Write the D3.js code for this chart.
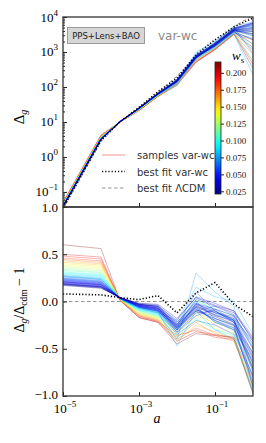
<!DOCTYPE html>
<html>
<head>
<meta charset="utf-8">
<script src="https://cdn.jsdelivr.net/npm/d3@7"></script>
<style>
body { margin: 0; background: #fff; }
</style>
</head>
<body>
<svg id="chart" width="266" height="443" font-family="Liberation Serif, serif"></svg>
<script>
// scale factor a at the knots where the curves are sampled
aKnots = [1e-5, 1e-4, 3.16e-4, 1e-3, 3.16e-3, 0.01, 0.0316, 0.1, 0.316, 1]
// best fit LCDM Delta_g at the knots
lcdmFit = [0.032, 2.75, 9.8, 25.7, 69, 204, 760, 1860, 5370, 11200]
// best fit var-wc, relative to LCDM
bestRatio = [0.08, 0.07, 0.04, 0.02, 0.063, -0.12, 0.09, 0.2, -0.03, -0.16]
// samples: w_s and relative difference to LCDM
sampleW = [0.026, 0.028, 0.03, 0.032, 0.033, 0.035, 0.036, 0.038, 0.04, 0.042,
  0.044, 0.045, 0.047, 0.05, 0.052, 0.055, 0.058, 0.06, 0.063, 0.066,
  0.07, 0.074, 0.077, 0.08, 0.085, 0.09, 0.095, 0.1, 0.108, 0.115,
  0.122, 0.13, 0.138, 0.146, 0.155, 0.163, 0.172, 0.18, 0.19, 0.2, 0.214]
sampleRatio = [
  [0.17, 0.14, 0.04, -0.03, -0.05, -0.26, -0.05, -0.12, -0.18, -0.55],
  [0.175, 0.145, 0.045, -0.02, -0.03, -0.18, 0.04, -0.04, -0.1, -0.42],
  [0.18, 0.15, 0.04, -0.02, -0.04, -0.22, -0.02, -0.08, -0.15, -0.45],
  [0.183, 0.153, 0.04, -0.03, -0.06, -0.29, -0.09, -0.16, -0.24, -0.66],
  [0.185, 0.155, 0.035, -0.04, -0.07, -0.3, -0.1, -0.18, -0.25, -0.7],
  [0.188, 0.158, 0.04, -0.03, -0.05, -0.24, -0.03, -0.1, -0.2, -0.58],
  [0.19, 0.16, 0.04, -0.03, -0.06, -0.25, 0.02, -0.05, -0.12, -0.4],
  [0.195, 0.165, 0.04, -0.04, -0.08, -0.28, -0.08, -0.2, -0.28, -0.8],
  [0.2, 0.17, 0.035, -0.05, -0.09, -0.32, -0.12, -0.1, -0.22, -0.6],
  [0.205, 0.175, 0.04, -0.03, -0.05, -0.2, 0.05, -0.02, -0.1, -0.38],
  [0.208, 0.178, 0.04, -0.04, -0.07, -0.27, -0.06, -0.14, -0.22, -0.74],
  [0.21, 0.18, 0.035, -0.05, -0.08, -0.27, -0.04, -0.15, -0.2, -0.65],
  [0.215, 0.185, 0.04, -0.04, -0.07, -0.24, -0.06, -0.22, -0.3, -0.85],
  [0.22, 0.19, 0.035, -0.05, -0.09, -0.3, -0.02, -0.12, -0.16, -0.5],
  [0.225, 0.195, 0.04, -0.06, -0.1, -0.33, -0.15, -0.08, -0.2, -0.72],
  [0.23, 0.2, 0.035, -0.05, -0.08, -0.22, 0.0, -0.18, -0.26, -0.9],
  [0.235, 0.205, 0.04, -0.06, -0.1, -0.28, -0.1, -0.05, -0.14, -0.48],
  [0.24, 0.21, 0.035, -0.05, -0.09, -0.26, -0.07, -0.2, -0.3, -0.62],
  [0.245, 0.215, 0.035, -0.06, -0.11, -0.35, -0.2, -0.25, -0.35, -0.78],
  [0.25, 0.22, 0.03, -0.07, -0.1, -0.25, 0.1, -0.1, -0.22, -0.55],
  [0.26, 0.23, 0.035, -0.06, -0.1, -0.3, -0.03, -0.14, -0.18, -0.42],
  [0.265, 0.235, 0.03, -0.07, -0.12, -0.4, 0.3, 0.1, -0.05, -0.92],
  [0.27, 0.24, 0.035, -0.06, -0.11, -0.47, -0.1, -0.3, -0.4, -0.98],
  [0.275, 0.245, 0.03, -0.07, -0.12, -0.2, 0.15, 0.05, 0.0, -0.35],
  [0.285, 0.255, 0.035, -0.08, -0.13, -0.32, -0.05, -0.22, -0.28, -0.88],
  [0.295, 0.265, 0.03, -0.08, -0.12, -0.28, 0.05, -0.12, -0.2, -0.7],
  [0.305, 0.275, 0.03, -0.09, -0.14, -0.38, -0.18, -0.3, -0.36, -0.95],
  [0.315, 0.285, 0.025, -0.09, -0.13, -0.24, 0.0, -0.08, -0.15, -0.5],
  [0.33, 0.3, 0.03, -0.1, -0.15, -0.3, -0.08, -0.18, -0.25, -0.75],
  [0.34, 0.31, 0.025, -0.1, -0.15, -0.35, -0.12, -0.2, -0.32, -0.8],
  [0.355, 0.325, 0.025, -0.11, -0.16, -0.28, 0.02, -0.1, -0.2, -0.6],
  [0.37, 0.34, 0.025, -0.12, -0.17, -0.4, -0.2, -0.28, -0.38, -0.9],
  [0.385, 0.355, 0.02, -0.12, -0.17, -0.3, -0.05, -0.15, -0.25, -0.65],
  [0.4, 0.37, 0.025, -0.13, -0.18, -0.36, -0.15, -0.22, -0.3, -0.85],
  [0.415, 0.385, 0.02, -0.13, -0.19, -0.33, -0.1, -0.25, -0.34, -0.7],
  [0.43, 0.4, 0.02, -0.14, -0.19, -0.42, -0.25, -0.32, -0.4, -0.95],
  [0.445, 0.415, 0.02, -0.15, -0.2, -0.38, -0.22, -0.34, -0.4, -0.88],
  [0.46, 0.43, 0.02, -0.15, -0.21, -0.4, -0.28, -0.36, -0.42, -0.92],
  [0.48, 0.45, 0.015, -0.16, -0.21, -0.36, -0.3, -0.38, -0.4, -0.8],
  [0.5, 0.47, 0.015, -0.17, -0.22, -0.42, -0.32, -0.35, -0.38, -0.96],
  [0.6, 0.56, 0.01, -0.17, -0.22, -0.45, -0.34, -0.36, -0.38, -0.97]
]
xTicks = [1e-5, 1e-3, 1e-1]
yTopTicks = [1e-1, 1, 10, 100, 1000, 10000]
yBotTicks = [-1, -0.5, 0, 0.5, 1]
cbTicks = [0.025, 0.05, 0.075, 0.1, 0.125, 0.15, 0.175, 0.2]

svg = d3.select("#chart")
left = 63; right = 253
topY0 = 17; topY1 = 207; botY1 = 396

x = d3.scaleLog().domain([1e-5, 1]).range([left, right])
yTop = d3.scaleLog().domain([Math.pow(10, -1.43), 1e4]).range([topY1, topY0])
yBot = d3.scaleLinear().domain([-1, 1]).range([botY1, topY1])

function jet(t){
    t = Math.max(0, Math.min(1, t))
    c = v => Math.round(255 * Math.max(0, Math.min(1, v)))
    return "rgb(" + c(1.5 - Math.abs(4*t - 3)) + "," + c(1.5 - Math.abs(4*t - 2)) + "," + c(1.5 - Math.abs(4*t - 1)) + ")"
}
cbDomain = [0.021, 0.216]
color = w => jet((w - cbDomain[0]) / (cbDomain[1] - cbDomain[0]))

defs = svg.append("defs")
defs.append("clipPath").attr("id", "clipTop").append("rect")
  .attr("x", left).attr("y", topY0).attr("width", right - left).attr("height", topY1 - topY0)
defs.append("clipPath").attr("id", "clipBot").append("rect")
  .attr("x", left).attr("y", topY1).attr("width", right - left).attr("height", botY1 - topY1)

lineTop = d3.line().x(d => x(d.a)).y(d => yTop(d.v))
lineBot = d3.line().x(d => x(d.a)).y(d => yBot(d.v))

// high w_s drawn first so the blue samples sit on top
sampleData = sampleW.map((w, i) => ({w: w, r: sampleRatio[i]})).reverse()

// ---- top panel
gTop = svg.append("g").attr("clip-path", "url(#clipTop)")
gTop.append("path").attr("fill", "none").attr("stroke", "#888").attr("stroke-width", 0.9)
  .attr("stroke-dasharray", "3.5,2.5")
  .attr("d", lineTop(aKnots.map((a, i) => ({a: a, v: lcdmFit[i]}))))
gTop.selectAll(".sTop").data(sampleData).join("path").attr("class", "sTop")
  .attr("fill", "none").attr("stroke", d => color(d.w)).attr("stroke-width", 0.7).attr("opacity", 0.45)
  .attr("d", d => lineTop(aKnots.map((a, i) => ({a: a, v: lcdmFit[i] * (1 + d.r[i])}))))
gTop.append("path").attr("fill", "none").attr("stroke", "#000").attr("stroke-width", 1.6)
  .attr("stroke-dasharray", "1.2,2")
  .attr("d", lineTop(aKnots.map((a, i) => ({a: a, v: lcdmFit[i] * (1 + bestRatio[i])}))))

// ---- bottom panel
gBot = svg.append("g").attr("clip-path", "url(#clipBot)")
gBot.append("line").attr("x1", left).attr("x2", right).attr("y1", yBot(0)).attr("y2", yBot(0))
  .attr("stroke", "#888").attr("stroke-width", 0.9).attr("stroke-dasharray", "3.5,2.5")
gBot.selectAll(".sBot").data(sampleData).join("path").attr("class", "sBot")
  .attr("fill", "none").attr("stroke", d => color(d.w)).attr("stroke-width", 0.7).attr("opacity", 0.45)
  .attr("d", d => lineBot(aKnots.map((a, i) => ({a: a, v: d.r[i]}))))
gBot.append("path").attr("fill", "none").attr("stroke", "#000").attr("stroke-width", 1.6)
  .attr("stroke-dasharray", "1.2,2")
  .attr("d", lineBot(aKnots.map((a, i) => ({a: a, v: bestRatio[i]}))))

// ---- axes (inward ticks)
function powLabel(sel, exp){
    sel.append("tspan").text("10")
    sel.append("tspan").attr("dy", -6).attr("font-size", 9).text(exp)
}
fmtExp = e => (e < 0 ? "\u2212" + (-e) : "" + e)

svg.append("g").attr("transform", "translate(" + left + ",0)")
  .call(d3.axisLeft(yTop).tickValues(yTopTicks).tickSize(-4).tickFormat(""))
minor = []
for (let k = -2; k < 4; k++) for (let m = 2; m < 10; m++) {
    v = m * Math.pow(10, k)
    if (v > yTop.domain()[0] && v < 1e4) minor.push(v)
}
svg.append("g").attr("transform", "translate(" + left + ",0)")
  .call(d3.axisLeft(yTop).tickValues(minor).tickSize(-2).tickFormat(""))
yTopTicks.forEach(v => {
    t = svg.append("text").attr("x", 58).attr("y", yTop(v) + 4.5).attr("text-anchor", "end").attr("font-size", 13)
    powLabel(t, fmtExp(Math.round(Math.log10(v))))
})

svg.append("g").attr("transform", "translate(" + left + ",0)")
  .call(d3.axisLeft(yBot).tickValues(yBotTicks).tickSize(-4).tickFormat(""))
yBotTicks.forEach(v => {
    svg.append("text").attr("x", 58).attr("y", yBot(v) + (v == -1 ? 3 : 4.5)).attr("text-anchor", "end")
      .attr("font-size", 13).text(d3.format(".1f")(v).replace("-", "\u2212"))
})

svg.append("g").attr("transform", "translate(0," + botY1 + ")")
  .call(d3.axisBottom(x).tickValues(xTicks).tickSize(-4).tickFormat(""))
svg.append("g").attr("transform", "translate(0," + topY1 + ")")
  .call(d3.axisBottom(x).tickValues(xTicks).tickSize(-4).tickFormat(""))
xTicks.forEach(v => {
    t = svg.append("text").attr("x", x(v) + 2).attr("y", 413).attr("text-anchor", "middle").attr("font-size", 13)
    powLabel(t, fmtExp(Math.round(Math.log10(v))))
})
svg.selectAll(".tick line").attr("stroke", "#222").attr("stroke-width", 1)
svg.selectAll(".domain").attr("stroke", "none")

// frames
svg.append("rect").attr("x", left).attr("y", topY0).attr("width", right - left).attr("height", topY1 - topY0)
  .attr("fill", "none").attr("stroke", "#333").attr("stroke-width", 1.3)
svg.append("rect").attr("x", left).attr("y", topY1).attr("width", right - left).attr("height", botY1 - topY1)
  .attr("fill", "none").attr("stroke", "#333").attr("stroke-width", 1.3)

// axis labels
lab1 = svg.append("text").attr("transform", "translate(24,117) rotate(-90)").attr("text-anchor", "middle").attr("font-size", 15)
lab1.append("tspan").text("\u0394")
lab1.append("tspan").attr("dy", 3).attr("font-size", 10).attr("font-style", "italic").text("g")
lab2 = svg.append("text").attr("transform", "translate(24,300) rotate(-90)").attr("text-anchor", "middle").attr("font-size", 14)
lab2.append("tspan").text("\u0394")
lab2.append("tspan").attr("dy", 3).attr("font-size", 9.5).attr("font-style", "italic").text("g")
lab2.append("tspan").attr("dy", -3).text("/\u0394")
lab2.append("tspan").attr("dy", 3).attr("font-size", 9.5).text("cdm")
lab2.append("tspan").attr("dy", -3).text(" \u2212 1")
svg.append("text").attr("x", 157).attr("y", 423).attr("text-anchor", "middle").attr("font-size", 14)
  .attr("font-style", "italic").text("a")

// data-set box and model name
svg.append("rect").attr("x", 67.5).attr("y", 27.5).attr("width", 77).attr("height", 16)
  .attr("fill", "#d6d6d6").attr("stroke", "#9a9a9a").attr("stroke-width", 1)
svg.append("text").attr("x", 106).attr("y", 39).attr("text-anchor", "middle").attr("font-size", 8.5)
  .attr("font-family", "DejaVu Sans").attr("fill", "#222").text("PPS+Lens+BAO")
svg.append("text").attr("x", 158).attr("y", 40).attr("font-size", 12)
  .attr("font-family", "DejaVu Sans").attr("fill", "#8a8a8a").text("var-wc")

// legend
legend = [
  {label: "samples var-wc", stroke: "#f4a6a6", width: 1.2, dash: null},
  {label: "best fit var-wc", stroke: "#000", width: 1.6, dash: "1.2,2"},
  {label: "best fit \u039bCDM", stroke: "#888", width: 0.9, dash: "3.5,2.5"}
]
legend.forEach((d, i) => {
    ly = 155 + i * 16.5
    svg.append("line").attr("x1", 102).attr("x2", 125).attr("y1", ly).attr("y2", ly)
      .attr("stroke", d.stroke).attr("stroke-width", d.width).attr("stroke-dasharray", d.dash)
    svg.append("text").attr("x", 137).attr("y", ly + 4).attr("font-size", 10)
      .attr("font-family", "DejaVu Sans").attr("fill", "#333").text(d.label)
})

// colorbar
cb = d3.scaleLinear().domain(cbDomain).range([194, 62])
grad = defs.append("linearGradient").attr("id", "cbGrad").attr("x1", 0).attr("y1", 1).attr("x2", 0).attr("y2", 0)
d3.range(0, 1.0001, 0.05).forEach(t => grad.append("stop").attr("offset", t).attr("stop-color", jet(t)))
svg.append("rect").attr("x", 215).attr("y", 62).attr("width", 6).attr("height", 132)
  .attr("fill", "url(#cbGrad)").attr("stroke", "#222").attr("stroke-width", 0.8)
svg.append("g").attr("transform", "translate(221,0)")
  .call(d3.axisRight(cb).tickValues(cbTicks).tickSize(3).tickPadding(2).tickFormat(d3.format(".3f")))
  .call(g => g.select(".domain").remove())
  .call(g => g.selectAll("text").attr("font-size", 9).attr("font-family", "Liberation Serif").attr("fill", "#222"))
  .call(g => g.selectAll("line").attr("stroke", "#222"))
ws = svg.append("text").attr("x", 232).attr("y", 60).attr("font-size", 13)
ws.append("tspan").attr("font-style", "italic").text("w")
ws.append("tspan").attr("dy", 3).attr("font-size", 9).text("s")
</script>
</body>
</html>
